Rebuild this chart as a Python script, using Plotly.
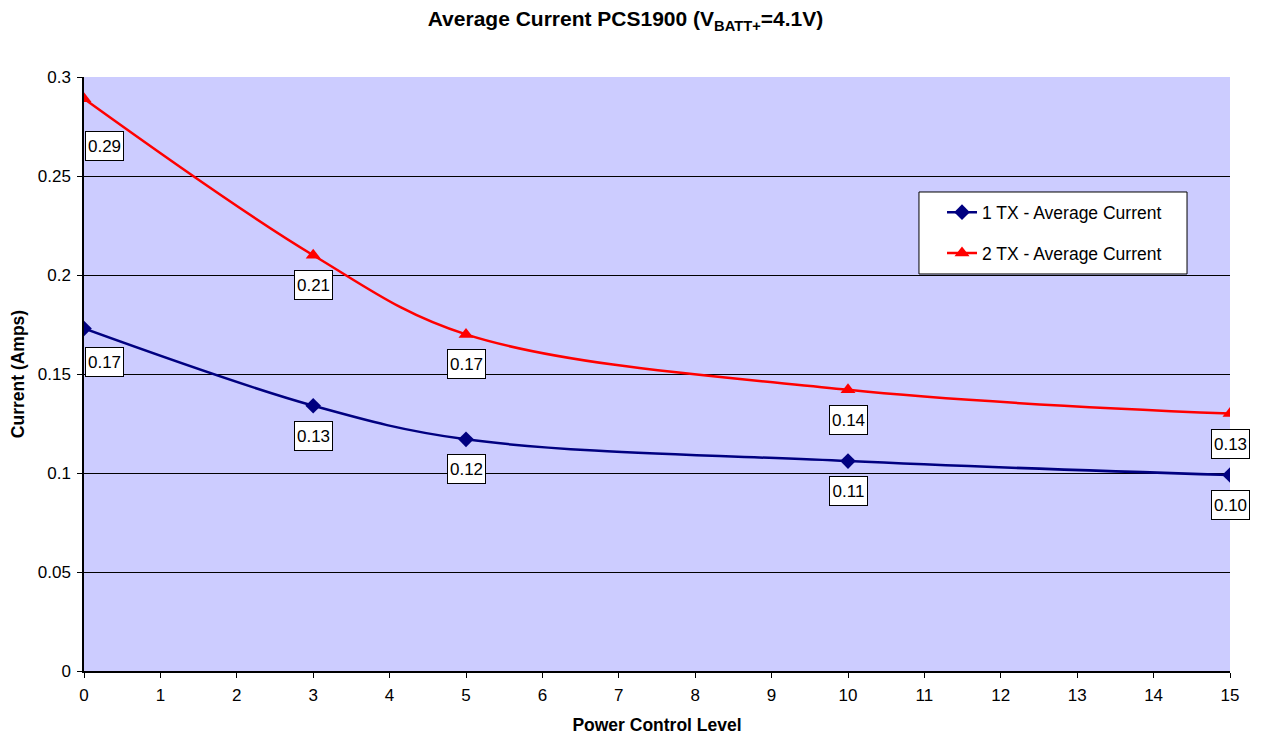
import plotly.graph_objects as go

power_level = [0, 3, 5, 10, 15]
tx1_current = [0.173, 0.134, 0.117, 0.106, 0.099]
tx2_current = [0.289, 0.210, 0.170, 0.142, 0.130]
series_names = ["1 TX - Average Current", "2 TX - Average Current"]
x_ticks = list(range(0, 16))
y_ticks = [0, 0.05, 0.1, 0.15, 0.2, 0.25, 0.3]
y_tick_labels = ["0", "0.05", "0.1", "0.15", "0.2", "0.25", "0.3"]

FONT = "Liberation Sans, Arial, sans-serif"

fig = go.Figure()
fig.add_trace(go.Scatter(
    x=power_level, y=tx1_current, name=series_names[0], mode="lines+markers",
    legendgroup="g1",
    line=dict(color="#000080", width=2.5, shape="spline", smoothing=1.0),
    marker=dict(symbol="diamond", size=12, color="#000080"),
))
fig.add_trace(go.Scatter(
    x=power_level, y=tx2_current, name=series_names[1], mode="lines+markers",
    legendgroup="g2",
    line=dict(color="#FF0000", width=2.5, shape="spline", smoothing=1.0),
    marker=dict(symbol="triangle-up", size=13, color="#FF0000"),
))

annotations = []
for si, series in enumerate((tx1_current, tx2_current)):
    for xv, yv in zip(power_level, series):
        xs = 20 if xv == 0 else 0
        ys = -30
        if xv == 0:
            ys = -34 if si == 0 else -47
        annotations.append(dict(
            x=xv, y=yv, xref="x", yref="y", text=f"{yv:.2f}", showarrow=False,
            xshift=xs, yshift=ys, bgcolor="white", bordercolor="black", borderwidth=1,
            borderpad=2, width=33, height=24,
            font=dict(family=FONT, size=17, color="black"),
        ))

# legend frame (drawn as a shape so the entries can sit inset like the reference)
shapes = [dict(type="rect", xref="paper", yref="paper", x0=0.7286, x1=0.9625,
               y0=0.6684, y1=0.8064, fillcolor="white",
               line=dict(color="black", width=1), layer="above")]

fig.update_layout(
    width=1255, height=728,
    margin=dict(l=76, r=33, t=69, b=65, autoexpand=False),
    paper_bgcolor="white", plot_bgcolor="#CCCCFF",
    title=dict(text="<b>Average Current PCS1900 (V<sub>BATT+</sub>=4.1V)</b>",
               x=0.492, xanchor="center", y=0.985, yanchor="middle",
               font=dict(family=FONT, size=21, color="black")),
    font=dict(family=FONT, size=17, color="black"),
    legend=dict(x=0.7487, y=0.8026, xanchor="left", yanchor="top",
                bgcolor="rgba(0,0,0,0)", borderwidth=0,
                font=dict(family=FONT, size=17.5, color="black"),
                tracegroupgap=15, itemwidth=30),
    annotations=annotations,
    shapes=shapes,
    showlegend=True,
)
fig.update_xaxes(
    range=[0, 15], tickvals=x_ticks, ticks="outside", ticklen=5, tickcolor="black",
    showline=True, linecolor="black", linewidth=1.5, showgrid=False, zeroline=False,
    title=dict(text="<b>Power Control Level</b>", font=dict(family=FONT, size=17.5), standoff=15),
    tickfont=dict(family=FONT, size=17), ticklabelstandoff=3, automargin=False,
)
fig.update_yaxes(
    range=[0, 0.3], tickvals=y_ticks, ticktext=y_tick_labels, ticks="outside", ticklen=5,
    tickcolor="black", showline=True, linecolor="black", linewidth=1.5,
    showgrid=True, gridcolor="black", gridwidth=1, zeroline=False,
    title=dict(text="<b>Current (Amps)</b>", font=dict(family=FONT, size=17.5), standoff=12),
    tickfont=dict(family=FONT, size=17), ticklabelstandoff=3, automargin=False,
)

fig.write_html("out.html")
